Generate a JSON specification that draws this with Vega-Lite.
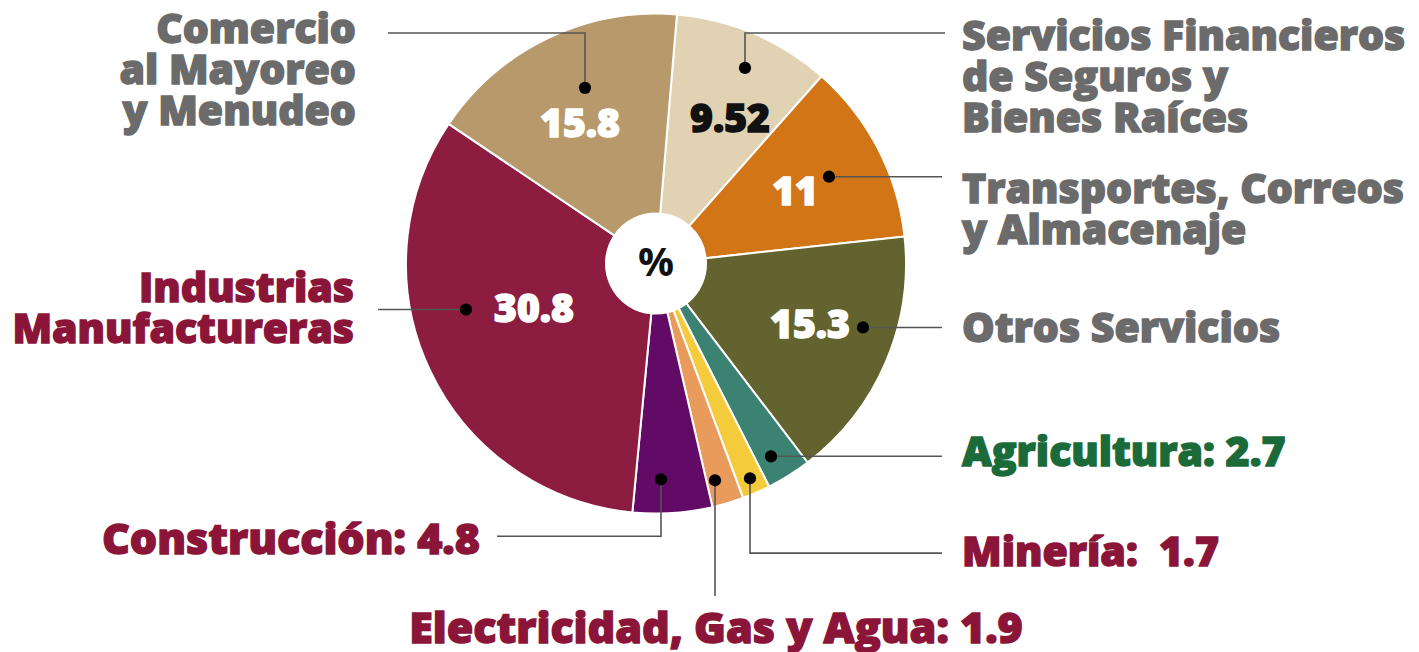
{
  "$schema": "https://vega.github.io/schema/vega-lite/v6.json",
  "width": 1419,
  "height": 652,
  "autosize": {"type": "fit", "contains": "padding"},
  "padding": 0,
  "background": "white",
  "config": {"view": {"stroke": null}, "font": "Open Sans"},
  "datasets": {
    "sectores": [
      {"sector": "Servicios Financieros de Seguros y Bienes Raíces", "tipo": "Terciario", "valor": 9.52, "orden": 1, "etq_u": 0.296, "etq_v": 0.576},
      {"sector": "Transportes, Correos y Almacenaje", "tipo": "Terciario", "valor": 11, "orden": 2, "etq_u": 0.556, "etq_v": 0.284},
      {"sector": "Otros Servicios", "tipo": "Terciario", "valor": 15.3, "orden": 3, "etq_u": 0.616, "etq_v": -0.252},
      {"sector": "Agricultura", "tipo": "Primario", "valor": 2.7, "orden": 4},
      {"sector": "Minería", "tipo": "Secundario", "valor": 1.7, "orden": 5},
      {"sector": "Electricidad, Gas y Agua", "tipo": "Secundario", "valor": 1.9, "orden": 6},
      {"sector": "Construcción", "tipo": "Secundario", "valor": 4.8, "orden": 7},
      {"sector": "Industrias Manufactureras", "tipo": "Secundario", "valor": 30.8, "orden": 8, "etq_u": -0.488, "etq_v": -0.184},
      {"sector": "Comercio al Mayoreo y Menudeo", "tipo": "Terciario", "valor": 15.8, "orden": 9, "etq_u": -0.304, "etq_v": 0.556}
    ],
    "guias": [
      {"sector": "Comercio al Mayoreo y Menudeo", "paso": 0, "u": -0.284, "v": 0.704},
      {"sector": "Comercio al Mayoreo y Menudeo", "paso": 1, "u": -0.284, "v": 0.924},
      {"sector": "Comercio al Mayoreo y Menudeo", "paso": 2, "u": -1.072, "v": 0.924},
      {"sector": "Servicios Financieros de Seguros y Bienes Raíces", "paso": 0, "u": 0.356, "v": 0.784},
      {"sector": "Servicios Financieros de Seguros y Bienes Raíces", "paso": 1, "u": 0.356, "v": 0.924},
      {"sector": "Servicios Financieros de Seguros y Bienes Raíces", "paso": 2, "u": 1.156, "v": 0.924},
      {"sector": "Transportes, Correos y Almacenaje", "paso": 0, "u": 0.692, "v": 0.348},
      {"sector": "Transportes, Correos y Almacenaje", "paso": 1, "u": 1.144, "v": 0.348},
      {"sector": "Otros Servicios", "paso": 0, "u": 0.828, "v": -0.256},
      {"sector": "Otros Servicios", "paso": 1, "u": 1.144, "v": -0.256},
      {"sector": "Agricultura", "paso": 0, "u": 0.46, "v": -0.772},
      {"sector": "Agricultura", "paso": 1, "u": 1.144, "v": -0.772},
      {"sector": "Minería", "paso": 0, "u": 0.376, "v": -0.86},
      {"sector": "Minería", "paso": 1, "u": 0.376, "v": -1.16},
      {"sector": "Minería", "paso": 2, "u": 1.144, "v": -1.16},
      {"sector": "Electricidad, Gas y Agua", "paso": 0, "u": 0.236, "v": -0.868},
      {"sector": "Electricidad, Gas y Agua", "paso": 1, "u": 0.236, "v": -1.332},
      {"sector": "Construcción", "paso": 0, "u": 0.02, "v": -0.864},
      {"sector": "Construcción", "paso": 1, "u": 0.02, "v": -1.092},
      {"sector": "Construcción", "paso": 2, "u": -0.636, "v": -1.092},
      {"sector": "Industrias Manufactureras", "paso": 0, "u": -0.76, "v": -0.184},
      {"sector": "Industrias Manufactureras", "paso": 1, "u": -1.112, "v": -0.184}
    ],
    "etiquetas_izq": [
      {"sector": "Comercio al Mayoreo y Menudeo", "tipo": "Terciario", "texto": "Comercio\nal Mayoreo\ny Menudeo", "u": -1.2, "v": 0.884},
      {"sector": "Industrias Manufactureras", "tipo": "Secundario", "texto": "Industrias\nManufactureras", "u": -1.208, "v": -0.152},
      {"sector": "Construcción", "tipo": "Secundario", "texto": "Construcción: 4.8", "u": -0.704, "v": -1.164}
    ],
    "etiquetas_der": [
      {"sector": "Servicios Financieros de Seguros y Bienes Raíces", "tipo": "Terciario", "texto": "Servicios Financieros\nde Seguros y\nBienes Raíces", "u": 1.224, "v": 0.856},
      {"sector": "Transportes, Correos y Almacenaje", "tipo": "Terciario", "texto": "Transportes, Correos\ny Almacenaje", "u": 1.224, "v": 0.244},
      {"sector": "Otros Servicios", "tipo": "Terciario", "texto": "Otros Servicios", "u": 1.224, "v": -0.316},
      {"sector": "Agricultura", "tipo": "Primario", "texto": "Agricultura: 2.7", "u": 1.224, "v": -0.812},
      {"sector": "Minería", "tipo": "Secundario", "texto": "Minería: \u00a01.7", "u": 1.224, "v": -1.212}
    ],
    "etiquetas_centro": [
      {"sector": "Electricidad, Gas y Agua", "tipo": "Secundario", "texto": "Electricidad, Gas y Agua: 1.9", "u": 0.24, "v": -1.52}
    ]
  },
  "layer": [
    {
      "data": {"name": "sectores"},
      "mark": {"type": "arc", "outerRadius": 250, "innerRadius": 50, "stroke": "white", "strokeWidth": 2},
      "encoding": {
        "theta": {"field": "valor", "type": "quantitative", "stack": true, "scale": {"range": [0.084, 6.367]}},
        "order": {"field": "orden", "type": "quantitative"},
        "x": {"datum": 0, "type": "quantitative", "scale": {"domain": [-2.624, 3.052], "nice": false, "zero": false}, "axis": null},
        "y": {"datum": 0, "type": "quantitative", "scale": {"domain": [-1.552, 1.056], "nice": false, "zero": false}, "axis": null},
        "color": {
          "field": "sector", "type": "nominal", "legend": null,
          "scale": {
            "domain": ["Servicios Financieros de Seguros y Bienes Raíces", "Transportes, Correos y Almacenaje", "Otros Servicios", "Agricultura", "Minería", "Electricidad, Gas y Agua", "Construcción", "Industrias Manufactureras", "Comercio al Mayoreo y Menudeo"],
            "range": ["#e2d2b4", "#d17517", "#63632f", "#3b8272", "#f3cb3b", "#e99b5b", "#620b66", "#8d1d40", "#b8996b"]
          }
        }
      }
    },
    {
      "data": {"name": "sectores"},
      "transform": [{"filter": "datum.valor > 5"}],
      "mark": {"type": "text", "fontSize": 39, "fontWeight": 800, "font": "Open Sans", "align": "center", "baseline": "middle", "strokeWidth": 1.5},
      "encoding": {
        "x": {"field": "etq_u", "type": "quantitative", "scale": {"domain": [-2.624, 3.052], "nice": false, "zero": false}, "axis": null},
        "y": {"field": "etq_v", "type": "quantitative", "scale": {"domain": [-1.552, 1.056], "nice": false, "zero": false}, "axis": null},
        "text": {"field": "valor", "type": "quantitative", "format": ""},
        "color": {"condition": {"test": "datum.orden === 1", "value": "#111111"}, "value": "white"},
        "stroke": {"condition": {"test": "datum.orden === 1", "value": "#111111"}, "value": "white"}
      }
    },
    {
      "data": {"values": [{"texto": "%"}]},
      "mark": {"type": "text", "fontSize": 40, "fontWeight": 700, "font": "Open Sans", "align": "center", "baseline": "middle", "color": "#111111"},
      "encoding": {
        "x": {"datum": 0, "type": "quantitative", "scale": {"domain": [-2.624, 3.052], "nice": false, "zero": false}, "axis": null},
        "y": {"datum": 0, "type": "quantitative", "scale": {"domain": [-1.552, 1.056], "nice": false, "zero": false}, "axis": null},
        "text": {"field": "texto"}
      }
    },
    {
      "data": {"name": "guias"},
      "mark": {"type": "line", "color": "#555555", "strokeWidth": 1.6, "interpolate": "linear"},
      "encoding": {
        "x": {"field": "u", "type": "quantitative", "scale": {"domain": [-2.624, 3.052], "nice": false, "zero": false}, "axis": null},
        "y": {"field": "v", "type": "quantitative", "scale": {"domain": [-1.552, 1.056], "nice": false, "zero": false}, "axis": null},
        "detail": {"field": "sector"},
        "order": {"field": "paso", "type": "quantitative"}
      }
    },
    {
      "data": {"name": "guias"},
      "transform": [{"filter": "datum.paso === 0"}],
      "mark": {"type": "point", "filled": true, "color": "#000000", "opacity": 1, "size": 150},
      "encoding": {
        "x": {"field": "u", "type": "quantitative", "scale": {"domain": [-2.624, 3.052], "nice": false, "zero": false}, "axis": null},
        "y": {"field": "v", "type": "quantitative", "scale": {"domain": [-1.552, 1.056], "nice": false, "zero": false}, "axis": null}
      }
    },
    {
      "data": {"name": "etiquetas_izq"},
      "mark": {"type": "text", "align": "right", "baseline": "alphabetic", "fontSize": 41, "fontWeight": 800, "font": "Open Sans", "lineBreak": "\n", "lineHeight": 41, "strokeWidth": 1.4},
      "encoding": {
        "x": {"field": "u", "type": "quantitative", "scale": {"domain": [-2.624, 3.052], "nice": false, "zero": false}, "axis": null},
        "y": {"field": "v", "type": "quantitative", "scale": {"domain": [-1.552, 1.056], "nice": false, "zero": false}, "axis": null},
        "text": {"field": "texto"},
        "size": {"condition": {"test": "datum.sector === 'Construcción'", "value": 43}, "value": 41},
        "color": {"condition": [{"test": "datum.tipo === 'Primario'", "value": "#1b6b3a"}, {"test": "datum.tipo === 'Secundario'", "value": "#8b1538"}], "value": "#6b6b6b"},
        "stroke": {"condition": [{"test": "datum.tipo === 'Primario'", "value": "#1b6b3a"}, {"test": "datum.tipo === 'Secundario'", "value": "#8b1538"}], "value": "#6b6b6b"}
      }
    },
    {
      "data": {"name": "etiquetas_der"},
      "mark": {"type": "text", "align": "left", "baseline": "alphabetic", "fontSize": 41, "fontWeight": 800, "font": "Open Sans", "lineBreak": "\n", "lineHeight": 41, "strokeWidth": 1.4},
      "encoding": {
        "x": {"field": "u", "type": "quantitative", "scale": {"domain": [-2.624, 3.052], "nice": false, "zero": false}, "axis": null},
        "y": {"field": "v", "type": "quantitative", "scale": {"domain": [-1.552, 1.056], "nice": false, "zero": false}, "axis": null},
        "text": {"field": "texto"},
        "color": {"condition": [{"test": "datum.tipo === 'Primario'", "value": "#1b6b3a"}, {"test": "datum.tipo === 'Secundario'", "value": "#8b1538"}], "value": "#6b6b6b"},
        "stroke": {"condition": [{"test": "datum.tipo === 'Primario'", "value": "#1b6b3a"}, {"test": "datum.tipo === 'Secundario'", "value": "#8b1538"}], "value": "#6b6b6b"}
      }
    },
    {
      "data": {"name": "etiquetas_centro"},
      "mark": {"type": "text", "align": "center", "baseline": "alphabetic", "fontSize": 43, "fontWeight": 800, "font": "Open Sans", "strokeWidth": 1.4},
      "encoding": {
        "x": {"field": "u", "type": "quantitative", "scale": {"domain": [-2.624, 3.052], "nice": false, "zero": false}, "axis": null},
        "y": {"field": "v", "type": "quantitative", "scale": {"domain": [-1.552, 1.056], "nice": false, "zero": false}, "axis": null},
        "text": {"field": "texto"},
        "color": {"condition": [{"test": "datum.tipo === 'Primario'", "value": "#1b6b3a"}, {"test": "datum.tipo === 'Secundario'", "value": "#8b1538"}], "value": "#6b6b6b"},
        "stroke": {"condition": [{"test": "datum.tipo === 'Primario'", "value": "#1b6b3a"}, {"test": "datum.tipo === 'Secundario'", "value": "#8b1538"}], "value": "#6b6b6b"}
      }
    }
  ]
}
